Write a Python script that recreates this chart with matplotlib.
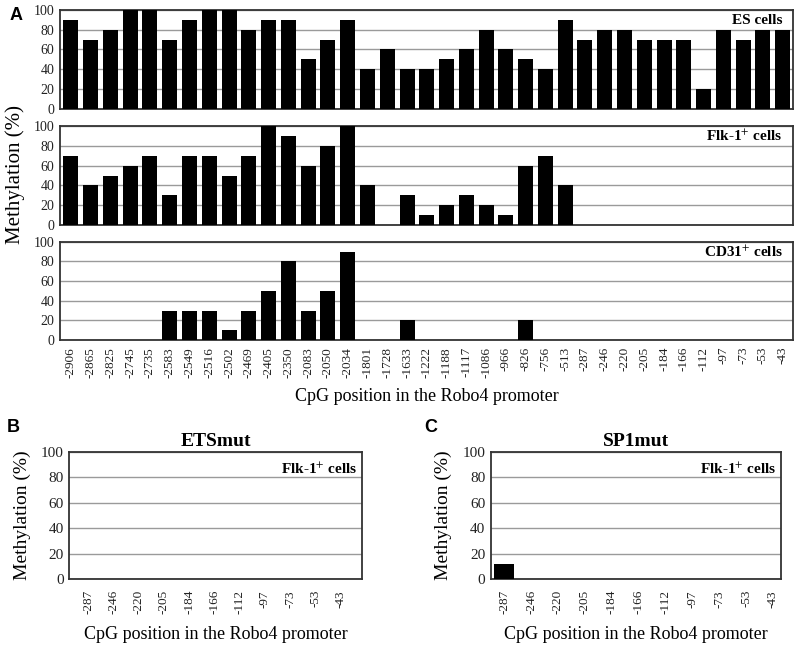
import matplotlib
matplotlib.use("Agg")
import matplotlib.pyplot as plt
import numpy as np

plt.rcParams['font.family'] = ['Liberation Serif', 'DejaVu Serif']
plt.rcParams['mathtext.fontset'] = 'stix'

positions_A = ["-2906", "-2865", "-2825", "-2745", "-2735", "-2583", "-2549", "-2516",
               "-2502", "-2469", "-2405", "-2350", "-2083", "-2050", "-2034", "-1801",
               "-1728", "-1633", "-1222", "-1188", "-1117", "-1086", "-966", "-826",
               "-756", "-513", "-287", "-246", "-220", "-205", "-184", "-166", "-112",
               "-97", "-73", "-53", "-43"]
es_cells = [90, 70, 80, 100, 100, 70, 90, 100, 100, 80, 90, 90, 50, 70, 90, 40, 60, 40,
            40, 50, 60, 80, 60, 50, 40, 90, 70, 80, 80, 70, 70, 70, 20, 80, 70, 80, 80]
flk1_cells = [70, 40, 50, 60, 70, 30, 70, 70, 50, 70, 100, 90, 60, 80, 100, 40, 0, 30,
              10, 20, 30, 20, 10, 60, 70, 40, 0, 0, 0, 0, 0, 0, 0, 0, 0, 0, 0]
cd31_cells = [0, 0, 0, 0, 0, 30, 30, 30, 10, 30, 50, 80, 30, 50, 90, 0, 0, 20,
              0, 0, 0, 0, 0, 20, 0, 0, 0, 0, 0, 0, 0, 0, 0, 0, 0, 0, 0]

positions_BC = ["-287", "-246", "-220", "-205", "-184", "-166", "-112", "-97", "-73", "-53", "-43"]
etsmut_flk1 = [0, 0, 0, 0, 0, 0, 0, 0, 0, 0, 0]
sp1mut_flk1 = [12, 0, 0, 0, 0, 0, 0, 0, 0, 0, 0]

yticks = [0, 20, 40, 60, 80, 100]

W, H = 800, 648
fig = plt.figure(figsize=(W / 100, H / 100), dpi=100)

def px_axes(left, top, right, bottom):
    return fig.add_axes([left / W, 1 - bottom / H, (right - left) / W, (bottom - top) / H])

frame_col = '#333333'
grid_col = '#9a9a9a'

def style(ax, ytick_fs):
    ax.set_ylim(0, 100)
    ax.set_yticks(yticks)
    ax.yaxis.grid(True, color=grid_col, linewidth=1.0)
    ax.set_axisbelow(True)
    for s in ax.spines.values():
        s.set_color(frame_col)
        s.set_linewidth(1.3)
    ax.tick_params(axis='y', length=0, labelsize=ytick_fs, colors='#222222', pad=4)
    ax.tick_params(axis='x', length=0)

# Panel A
panelA = [(es_cells, "ES cells", 10, 108.7),
          (flk1_cells, "Flk-1$^{+}$ cells", 126, 225),
          (cd31_cells, "CD31$^{+}$ cells", 241.7, 340)]
xA = np.arange(len(positions_A))
for i, (vals, lab, top, bot) in enumerate(panelA):
    ax = px_axes(60, top, 793, bot)
    ax.bar(xA, vals, width=0.76, color='black', zorder=3)
    ax.set_xlim(-0.55, len(positions_A) - 0.48)
    style(ax, 10)
    ax.set_xticks(xA)
    if i == 2:
        ax.set_xticklabels(positions_A, rotation=90, fontsize=9.5, color='#222222')
        ax.tick_params(axis='x', pad=5)
        ax.set_xlabel("CpG position in the Robo4 promoter", fontsize=13, labelpad=7)
    else:
        ax.set_xticklabels([])
    ax.text(0.986, 0.895, lab, transform=ax.transAxes, ha='right', va='center',
            fontsize=11, fontweight='bold', zorder=5)

fig.text(15 / W, 1 - 175 / H, "Methylation (%)", rotation=90, ha='center', va='center', fontsize=15)

# Panels B and C
xB = np.arange(len(positions_BC))
for vals, title, left, right, xlim, lx in [
        (etsmut_flk1, "ETSmut", 69.3, 362, (-0.75, 10.85), 22),
        (sp1mut_flk1, "SP1mut", 490.7, 781, (-0.5, 10.3), 443)]:
    ax = px_axes(left, 452, right, 579)
    ax.bar(xB, vals, width=0.72, color='black', zorder=3)
    ax.set_xlim(*xlim)
    style(ax, 11)
    ax.set_xticks(xB)
    ax.set_xticklabels(positions_BC, rotation=90, fontsize=9.5, color='#222222')
    ax.tick_params(axis='x', pad=8)
    ax.set_xlabel("CpG position in the Robo4 promoter", fontsize=13, labelpad=8)
    ax.set_title(title, fontsize=14, fontweight='bold', pad=4)
    ax.text(0.985, 0.86, "Flk-1$^{+}$ cells", transform=ax.transAxes, ha='right', va='center',
            fontsize=11, fontweight='bold', zorder=5)
    fig.text(lx / W, 1 - 515 / H, "Methylation (%)", rotation=90, ha='center', va='center', fontsize=14)

for letter, x, y in [("A", 16, 16), ("B", 13, 428), ("C", 431, 428)]:
    fig.text(x / W, 1 - y / H, letter, ha='center', va='center', fontsize=13,
             fontweight='bold', family=['Liberation Sans', 'DejaVu Sans'])

fig.savefig("out.png", dpi=100)
